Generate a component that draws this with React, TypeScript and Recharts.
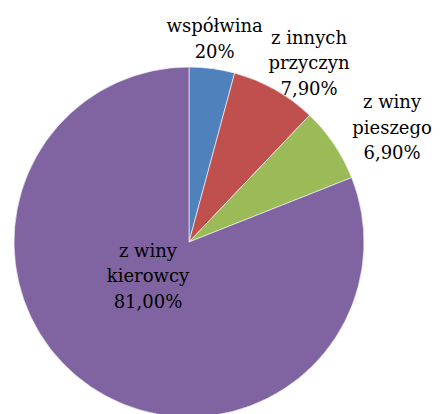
import { PieChart, Pie, Cell } from 'recharts';

const categories = ['współwina', 'z innych przyczyn', 'z winy pieszego', 'z winy kierowcy'];
const values = [4.2, 7.9, 6.9, 81.0];
const valueLabels = ['20%', '7,90%', '6,90%', '81,00%'];
const nameLines = [['współwina'], ['z innych', 'przyczyn'], ['z winy', 'pieszego'], ['z winy', 'kierowcy']];

const colors = ['#4F81BD', '#C0504D', '#9BBB59', '#8064A2'];

const data = categories.map((name, i) => ({ name, value: values[i] }));

const RAD = Math.PI / 180;
const LINE_H = 25.5;
const FONT = 'DejaVu Serif';

const renderLabel = (props: any) => {
    const { cx, cy, midAngle, outerRadius, index } = props;
    const lines = [...nameLines[index], valueLabels[index]];
    const cos = Math.cos(-midAngle * RAD);
    const sin = Math.sin(-midAngle * RAD);
    // big slice: label inside; small slices: outside, pushed further sideways the more horizontal the angle
    const inside = values[index] > 50;
    const rx = inside ? 73 : outerRadius + 70 * Math.min(1, Math.abs(cos) * 2.2);
    const ry = inside ? 40 : outerRadius + 31;
    const x = cx + rx * cos;
    const y = cy + ry * sin;
    const top = y - ((lines.length - 1) / 2) * LINE_H;
    return (
        <text
            key={`label-${index}`}
            x={x}
            y={top}
            fill="#000"
            textAnchor="middle"
            dominantBaseline="central"
            style={{ fontFamily: FONT, fontSize: 18 }}
        >
            {lines.map((l, i) => (
                <tspan key={i} x={x} y={top + i * LINE_H}>{l}</tspan>
            ))}
        </text>
    );
};

export default function App() {
    return (
        <div style={{ position: 'absolute', left: 0, top: 0, width: 443, height: 414, background: '#fff' }}>
            <PieChart width={443} height={414} margin={{ top: 0, right: 0, bottom: 0, left: 0 }}>
                <Pie
                    data={data}
                    dataKey="value"
                    nameKey="name"
                    cx={189}
                    cy={242}
                    outerRadius={175}
                    startAngle={90}
                    endAngle={-270}
                    stroke="#fff"
                    strokeWidth={0.6}
                    label={renderLabel}
                    labelLine={false}
                    isAnimationActive={false}
                >
                    {data.map((entry, index) => (
                        <Cell key={`cell-${index}`} fill={colors[index]} />
                    ))}
                </Pie>
            </PieChart>
        </div>
    );
}
